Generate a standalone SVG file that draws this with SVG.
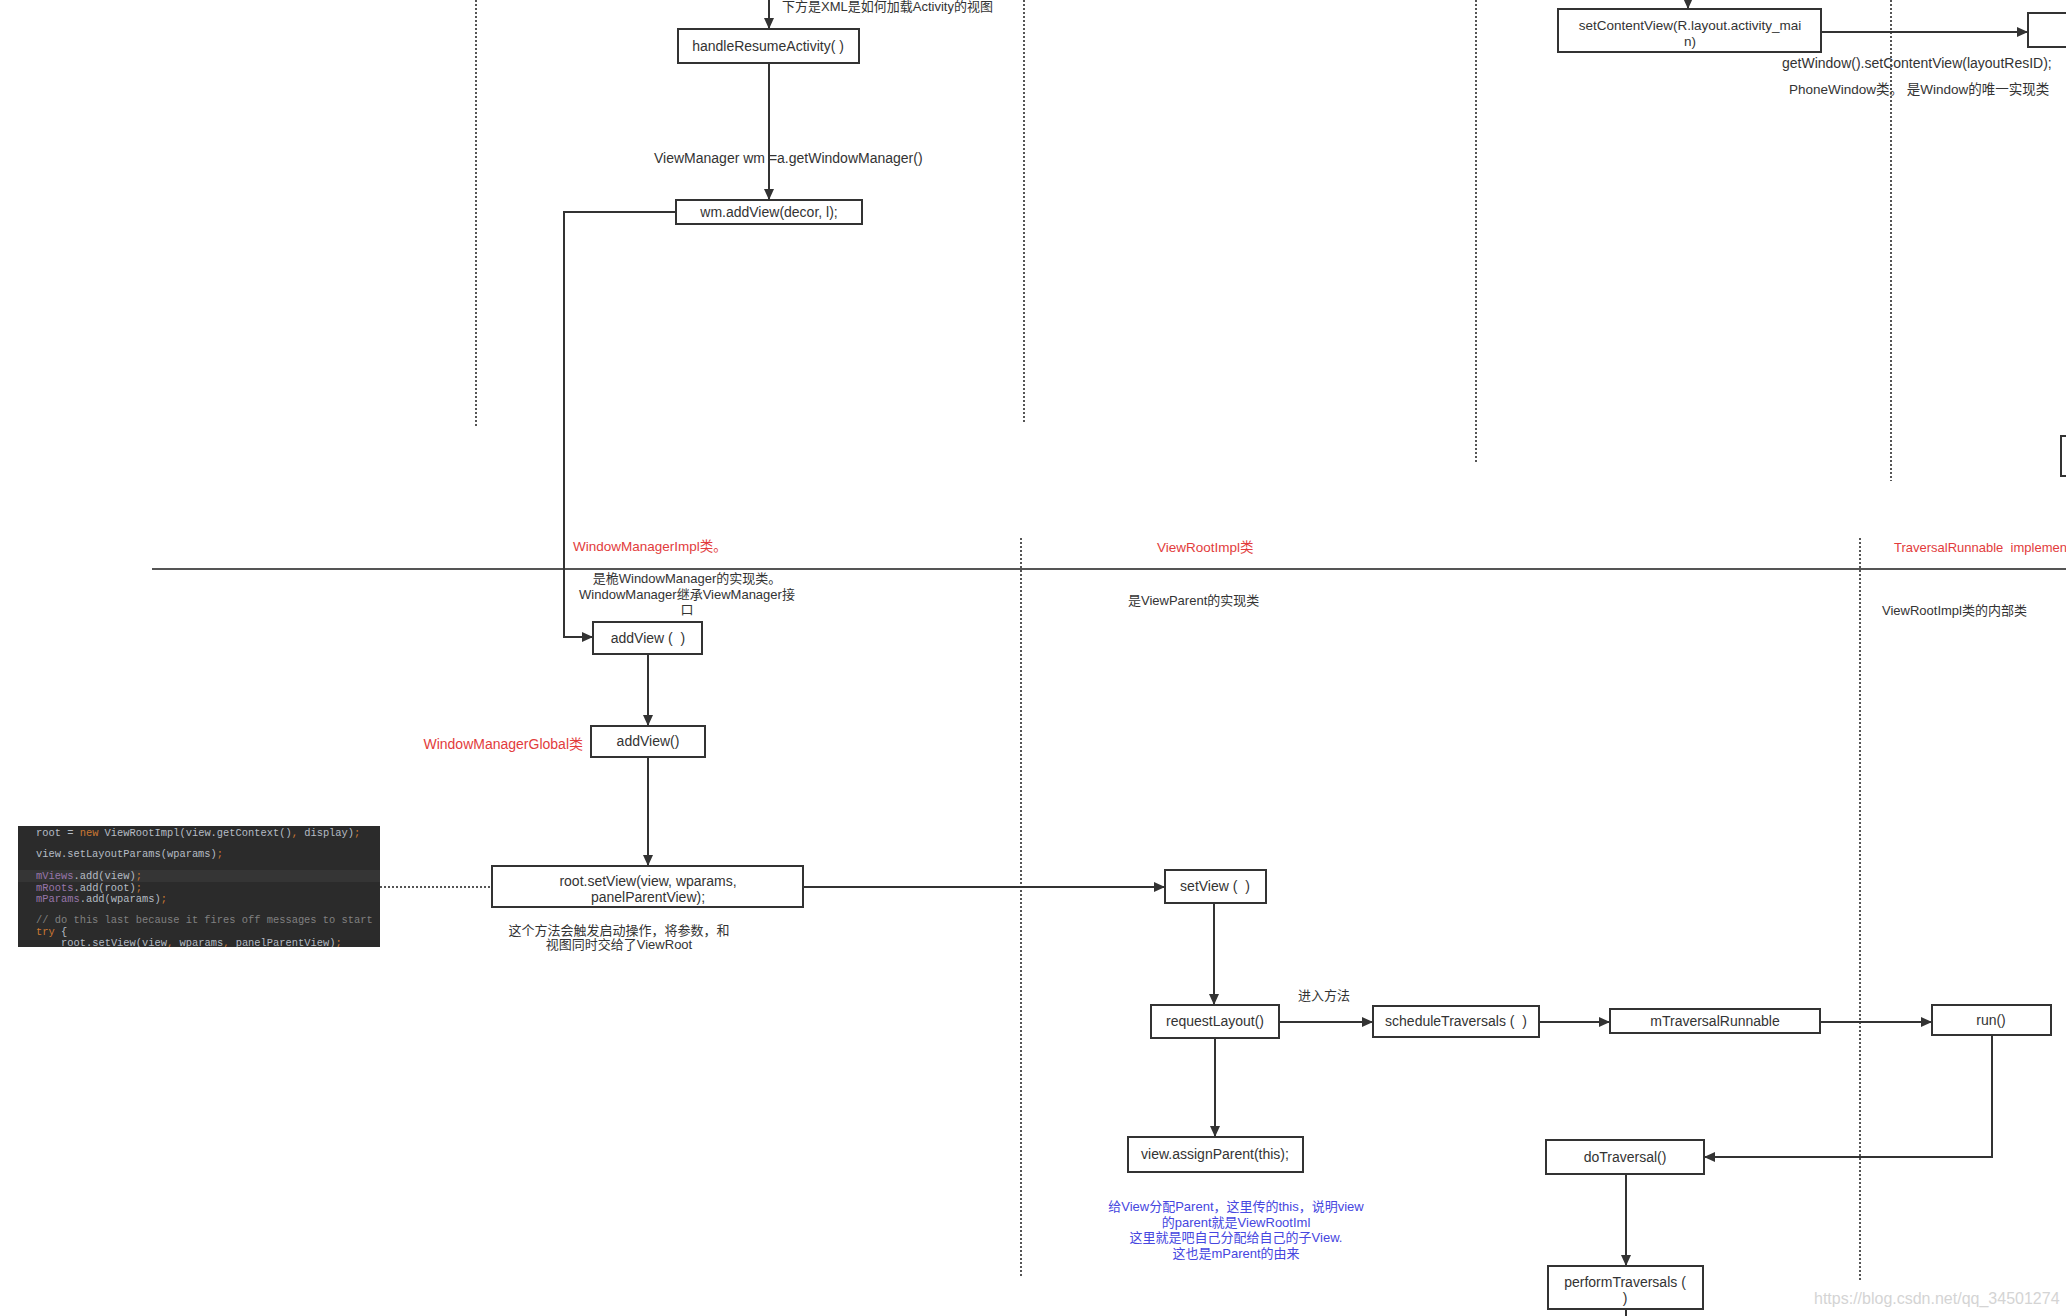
<svg xmlns="http://www.w3.org/2000/svg" width="2066" height="1316" viewBox="0 0 2066 1316">
<style>
.bg{fill:#ffffff}
.box{fill:#ffffff;stroke:#333333;stroke-width:2}
.t{font-family:"Liberation Sans","Noto Sans CJK SC",sans-serif;font-size:13px;fill:#333333;dominant-baseline:central}
.l{font-size:14px}
.m{font-size:13.5px}
.c{text-anchor:middle}
.red{fill:#e23c3c}
.blue{fill:#4646e0}
.pre{white-space:pre}
.wm{font-family:"Liberation Sans",sans-serif;font-size:16px;fill:#d4d4d4;dominant-baseline:central}
.ln{fill:none;stroke:#333333;stroke-width:2}
.dot{fill:none;stroke:#555555;stroke-width:2;stroke-dasharray:2 2}
.sep{fill:none;stroke:#555555;stroke-width:2}
.code{font-family:"Liberation Mono",monospace;font-size:10.4px;fill:#b5bcc4;dominant-baseline:central;white-space:pre}
.kw{fill:#cc7832}
.fld{fill:#9876aa}
.cm{fill:#808080}
</style>
<defs>
<marker id="arr" markerUnits="userSpaceOnUse" markerWidth="12" markerHeight="10" refX="11" refY="5" orient="auto">
<path d="M0,0 L11,5 L0,10 z" fill="#333333"/>
</marker>
<clipPath id="codeclip"><rect x="18" y="826" width="362" height="121"/></clipPath>
</defs>
<rect class="bg" x="0" y="0" width="2066" height="1316"/>

<g id="lanes">
<path class="dot" d="M476,0 V428"/>
<path class="dot" d="M1024,0 V424"/>
<path class="dot" d="M1476,0 V464"/>
<path class="dot" d="M1891,0 V481"/>
<path class="dot" d="M1021,538 V1278"/>
<path class="dot" d="M1860,538 V1280"/>
<path class="sep" d="M152,569 H2066"/>
</g>

<g id="connectors">
<path class="ln" d="M769,-5 V29" marker-end="url(#arr)"/>
<path class="ln" d="M769,63 V200" marker-end="url(#arr)"/>
<path class="ln" d="M676,212 H564 V637 H593" marker-end="url(#arr)"/>
<path class="ln" d="M648,654 V726" marker-end="url(#arr)"/>
<path class="ln" d="M648,757 V866" marker-end="url(#arr)"/>
<path class="ln" d="M803,887 H1165" marker-end="url(#arr)"/>
<path class="dot" d="M380,887 H492"/>
<path class="ln" d="M1214,903 V1005" marker-end="url(#arr)"/>
<path class="ln" d="M1279,1022 H1373" marker-end="url(#arr)"/>
<path class="ln" d="M1539,1022 H1610" marker-end="url(#arr)"/>
<path class="ln" d="M1820,1022 H1932" marker-end="url(#arr)"/>
<path class="ln" d="M1992,1035 V1157 H1704" marker-end="url(#arr)"/>
<path class="ln" d="M1215,1038 V1137" marker-end="url(#arr)"/>
<path class="ln" d="M1626,1174 V1266" marker-end="url(#arr)"/>
<path class="ln" d="M1626,1309 V1320"/>
<path class="ln" d="M1688,-5 V9" marker-end="url(#arr)"/>
<path class="ln" d="M1821,32 H2028" marker-end="url(#arr)"/>
</g>

<g id="labels">
<text class="t" x="782" y="6">下方是XML是如何加载Activity的视图</text>
<text class="t l" x="654" y="158">ViewManager wm =a.getWindowManager()</text>
<text class="t l" x="1782" y="63">getWindow().setContentView(layoutResID);</text>
<text class="t m" x="1789" y="89">PhoneWindow类。 是Window的唯一实现类</text>
<text class="t m red" x="573" y="546">WindowManagerImpl类。</text>
<text class="t c" x="687" y="578">是桅WindowManager的实现类。</text>
<text class="t c" x="687" y="594">WindowManager继承ViewManager接</text>
<text class="t c" x="687" y="609">口</text>
<text class="t m red" x="1157" y="547">ViewRootImpl类</text>
<text class="t" x="1128" y="600">是ViewParent的实现类</text>
<text class="t red pre" x="1894" y="547">TraversalRunnable  implemen</text>
<text class="t" x="1882" y="610">ViewRootImpl类的内部类</text>
<text class="t l red" x="583" y="744" text-anchor="end">WindowManagerGlobal类</text>
<text class="t c" x="619" y="930">这个方法会触发启动操作，将参数，和</text>
<text class="t c" x="619" y="944">视图同时交给了ViewRoot</text>
<text class="t" x="1298" y="995">进入方法</text>
<text class="t c blue" x="1236" y="1206">给View分配Parent，这里传的this，说明view</text>
<text class="t c blue" x="1236" y="1222">的parent就是ViewRootIml</text>
<text class="t c blue" x="1236" y="1237">这里就是吧自己分配给自己的子View.</text>
<text class="t c blue" x="1236" y="1253">这也是mParent的由来</text>
<text class="wm" x="1814" y="1298">https://blog.csdn.net/qq_34501274</text>
</g>

<g id="code">
<rect x="18" y="826" width="362" height="121" fill="#2b2b2b"/>
<rect x="18" y="870" width="362" height="12" fill="#353535"/>
<g clip-path="url(#codeclip)">
<text class="code" x="36" y="833">root = <tspan class="kw">new</tspan> ViewRootImpl(view.getContext()<tspan class="kw">,</tspan> display)<tspan class="kw">;</tspan></text>
<text class="code" x="36" y="854">view.setLayoutParams(wparams)<tspan class="kw">;</tspan></text>
<text class="code" x="36" y="876"><tspan class="fld">mViews</tspan>.add(view)<tspan class="kw">;</tspan></text>
<text class="code" x="36" y="888"><tspan class="fld">mRoots</tspan>.add(root)<tspan class="kw">;</tspan></text>
<text class="code" x="36" y="899"><tspan class="fld">mParams</tspan>.add(wparams)<tspan class="kw">;</tspan></text>
<text class="code cm" x="36" y="920">// do this last because it fires off messages to start</text>
<text class="code" x="36" y="932"><tspan class="kw">try</tspan> {</text>
<text class="code" x="61" y="943">root.setView(view<tspan class="kw">,</tspan> wparams<tspan class="kw">,</tspan> panelParentView)<tspan class="kw">;</tspan></text>
</g>
</g>

<g id="n-handleResume"><rect class="box" x="678" y="29" width="181" height="34"/><text class="t l c" x="768" y="46">handleResumeActivity( )</text></g>
<g id="n-wmAddView"><rect class="box" x="676" y="200" width="186" height="24"/><text class="t l c" x="769" y="212">wm.addView(decor, l);</text></g>
<g id="n-addView1"><rect class="box" x="593" y="622" width="109" height="32"/><text class="t l c pre" x="648" y="638">addView (  )</text></g>
<g id="n-addView2"><rect class="box" x="591" y="726" width="114" height="31"/><text class="t l c" x="648" y="741">addView()</text></g>
<g id="n-rootSetView"><rect class="box" x="492" y="866" width="311" height="41"/><text class="t l c" x="648" y="881">root.setView(view, wparams,</text><text class="t l c" x="648" y="897">panelParentView);</text></g>
<g id="n-setView"><rect class="box" x="1165" y="870" width="101" height="33"/><text class="t l c pre" x="1215" y="886">setView (  )</text></g>
<g id="n-requestLayout"><rect class="box" x="1151" y="1005" width="128" height="33"/><text class="t l c" x="1215" y="1021">requestLayout()</text></g>
<g id="n-scheduleTraversals"><rect class="box" x="1373" y="1006" width="166" height="31"/><text class="t l c pre" x="1456" y="1021">scheduleTraversals (  )</text></g>
<g id="n-mTraversalRunnable"><rect class="box" x="1610" y="1009" width="210" height="24"/><text class="t l c" x="1715" y="1021">mTraversalRunnable</text></g>
<g id="n-run"><rect class="box" x="1932" y="1005" width="119" height="30"/><text class="t l c" x="1991" y="1020">run()</text></g>
<g id="n-assignParent"><rect class="box" x="1128" y="1137" width="175" height="35"/><text class="t l c" x="1215" y="1154">view.assignParent(this);</text></g>
<g id="n-doTraversal"><rect class="box" x="1546" y="1140" width="158" height="34"/><text class="t l c" x="1625" y="1157">doTraversal()</text></g>
<g id="n-performTraversals"><rect class="box" x="1548" y="1266" width="155" height="43"/><text class="t l c" x="1625" y="1282">performTraversals (</text><text class="t l c" x="1625" y="1298">)</text></g>
<g id="n-setContentView"><rect class="box" x="1558" y="9" width="263" height="43"/><text class="t m c" x="1690" y="25">setContentView(R.layout.activity_mai</text><text class="t m c" x="1690" y="41">n)</text></g>
<g id="n-rightTop"><rect class="box" x="2028" y="13" width="60" height="34"/></g>
<g id="n-rightMid"><rect class="box" x="2061" y="436" width="30" height="40"/></g>
</svg>
